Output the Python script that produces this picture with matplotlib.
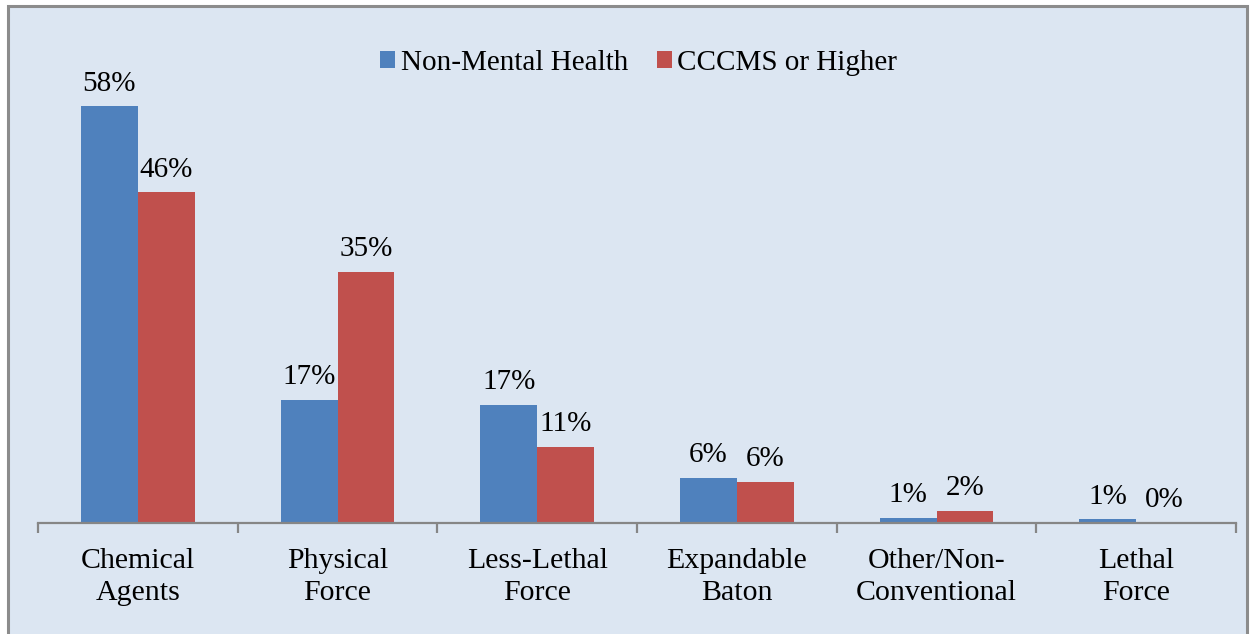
import numpy as np
import matplotlib
matplotlib.use("Agg")
import matplotlib.pyplot as plt
from matplotlib.patches import Rectangle

categories = ["Chemical\nAgents", "Physical\nForce", "Less-Lethal\nForce",
              "Expandable\nBaton", "Other/Non-\nConventional", "Lethal\nForce"]
non_mental = [58.0, 17.1, 16.4, 6.3, 0.7, 0.5]
cccms = [46.0, 34.9, 10.6, 5.7, 1.7, 0.0]
non_mental_labels = ["58%", "17%", "17%", "6%", "1%", "1%"]
cccms_labels = ["46%", "35%", "11%", "6%", "2%", "0%"]

plt.rcParams["font.family"] = ["Liberation Serif", "DejaVu Serif"]

fig = plt.figure(figsize=(12.5, 6.34), dpi=100)
fig.patch.set_facecolor("white")
panel = Rectangle((8 / 1250, -0.01), 1239 / 1250, 1 - 6 / 634 + 0.01,
                  transform=fig.transFigure, facecolor="#DCE6F2",
                  edgecolor="#8C8C8C", linewidth=2.2, zorder=-5)
fig.patches.append(panel)

ax = fig.add_axes([38 / 1250, 1 - 523 / 634, 1198 / 1250, 503 / 634])
ax.set_zorder(2)
ax.set_facecolor("none")

x = np.arange(len(categories))
w = 0.285
b1 = ax.bar(x - w / 2, non_mental, w, color="#4F81BD", label="Non-Mental Health")
b2 = ax.bar(x + w / 2, cccms, w, color="#C0504D", label="CCCMS or Higher")

for bars, labels in ((b1, non_mental_labels), (b2, cccms_labels)):
    for rect, lab in zip(bars, labels):
        ax.annotate(lab, (rect.get_x() + rect.get_width() / 2, rect.get_height()),
                    xytext=(0, 7), textcoords="offset points",
                    ha="center", va="bottom", fontsize=21)

ax.set_xlim(-0.5, len(categories) - 0.5)
ax.set_ylim(0, 70)
ax.set_yticks([])
for s in ("top", "right", "left"):
    ax.spines[s].set_visible(False)
ax.spines["bottom"].set_color("#868686")
ax.spines["bottom"].set_linewidth(1.6)

ax.set_xticks(x)
ax.set_xticklabels(categories, fontsize=21.5, linespacing=1.3)
ax.tick_params(axis="x", which="major", length=0, pad=18)
ax.set_xticks(np.arange(-0.5, len(categories)), minor=True)
ax.tick_params(axis="x", which="minor", length=7, width=1.6, color="#868686")

fig.legend(loc="center", bbox_to_anchor=(0.511, 1 - 63 / 634), ncol=2, frameon=False,
           fontsize=21, handlelength=0.5, handleheight=0.5, handletextpad=0.2,
           columnspacing=1.0)

fig.savefig("out.png", dpi=100)
